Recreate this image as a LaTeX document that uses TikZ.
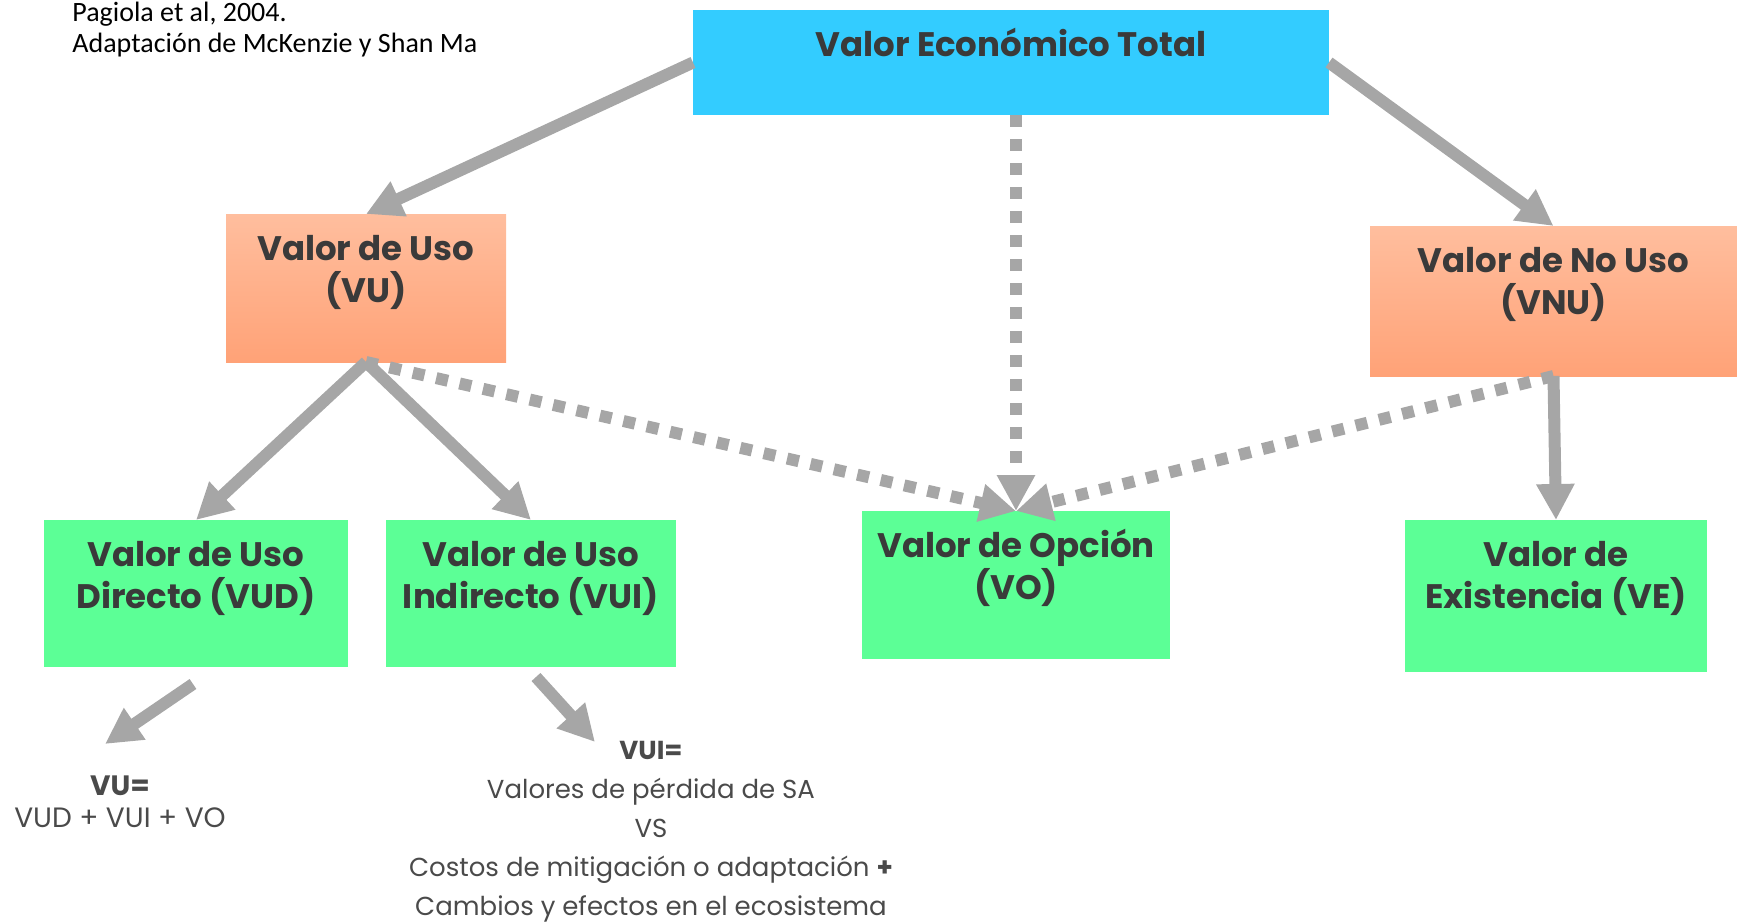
\documentclass[tikz,border=0pt]{standalone}
\usepackage{fontspec}
\setmainfont{Poppins}
\newfontfamily\notefont{Carlito}
\usepackage{xcolor}
\definecolor{cTotal}{HTML}{33CCFF}
\definecolor{cLeaf}{HTML}{5CFF96}
\definecolor{cUseTop}{HTML}{FFBE9E}
\definecolor{cUseBot}{HTML}{FFA277}
\definecolor{cArrow}{HTML}{A6A6A6}
\definecolor{cText}{HTML}{3A3A3A}
\definecolor{cFormula}{HTML}{4A4A4A}
\usepackage{tikz}
\usetikzlibrary{positioning,arrows.meta}
\tikzset{
  node-box/.style={inner sep=0pt,outer sep=0pt},
  node-total/.style={node-box,fill=cTotal},
  node-use/.style={node-box,top color=cUseTop,bottom color=cUseBot},
  node-leaf/.style={node-box,fill=cLeaf},
  node-label/.style={inner sep=0pt,align=center,text=cText,
    font=\fontsize{17}{21}\selectfont\bfseries},
  node-formula/.style={inner sep=0pt,align=center,text=cFormula},
  arrow/.style={-{Triangle[length=18pt,width=18pt]},line width=6pt,draw=cArrow},
  arrow-option/.style={arrow,dash pattern=on 6pt off 6pt},
}

\begin{document}
\begin{tikzpicture}[x=0.5pt,y=-0.5pt]
  \useasboundingbox (0,0) rectangle (1737,922);
  % cajas
  \node[node-total,minimum width=318pt,minimum height=52.5pt] (vet) at (1011,62.5) {};
  \node[node-use,minimum width=140pt,minimum height=74pt]     (vu)  at (366,288) {};
  \node[node-use,minimum width=183.5pt,minimum height=75pt]   (vnu) at (1553.5,301) {};
  \node[node-leaf,minimum width=152pt,minimum height=73.5pt]  (vud) at (196,593.5) {};
  \node[node-leaf,minimum width=145pt,minimum height=73.5pt]  (vui) at (531,593.5) {};
  \node[node-leaf,minimum width=154pt,minimum height=74pt]    (vo)  at (1016,585) {};
  \node[node-leaf,minimum width=151pt,minimum height=76pt]    (ve)  at (1556,596) {};
  % textos de las cajas (base = ultima linea)
  \node[node-label,below=23pt of vet.north,anchor=base] (vet-t) {Valor Económico Total};
  \node[node-label,below=44pt of vu.north,anchor=base]  (vu-t)  {Valor de Uso\\(VU)};
  \node[node-label,below=44pt of vnu.north,anchor=base] (vnu-t) {Valor de No Uso\\(VNU)};
  \node[node-label,below=44pt of vud.north,anchor=base] (vud-t) {Valor de Uso\\Directo (VUD)};
  \node[node-label,below=44pt of vui.north,anchor=base] (vui-t) {Valor de Uso\\Indirecto (VUI)};
  \node[node-label,below=44pt of vo.north,anchor=base]  (vo-t)  {Valor de Opción\\(VO)};
  \node[node-label,below=44pt of ve.north,anchor=base]  (ve-t)  {Valor de\\Existencia (VE)};
  % fuente
  \node[anchor=base west,inner sep=0pt,align=left,
    font=\notefont\fontsize{14}{15.5}\selectfont] (src) at (72,52)
    {Pagiola et al, 2004.\\Adaptación de McKenzie y Shan Ma};
  % fórmulas
  \node[node-formula,anchor=base,font=\fontsize{14}{16}\selectfont] (vu-f) at (120,827)
    {\textbf{VU=}\\VUD + VUI + VO};
  \node[node-formula,anchor=base,font=\fontsize{13}{19.5}\selectfont] (vui-f) at (651,915)
    {\textbf{VUI=}\\Valores de pérdida de SA\\VS\\Costos de mitigación o adaptación \textbf{+}\\Cambios y efectos en el ecosistema};
  \coordinate (vud-out) at (193,684);
  \coordinate (vu-in)   at (105,744);
  \coordinate (vui-out) at (536,677);
  \coordinate (vui-in)  at (595,742);
  % flechas
  \draw[arrow]        (vet.west)  -- (vu.north);
  \draw[arrow]        (vet.east)  -- (vnu.north);
  \draw[arrow-option] (vo.north |- vet.south) -- (vo.north);
  \draw[arrow]        (vu.south)  -- (vud.north);
  \draw[arrow]        (vu.south)  -- (vui.north);
  \draw[arrow-option] (vu.south)  -- (vo.north);
  \draw[arrow-option] (vnu.south) -- (vo.north);
  \draw[arrow]        (vnu.south) -- (ve.north);
  \draw[arrow]        (vud-out)   -- (vu-in);
  \draw[arrow]        (vui-out)   -- (vui-in);
\end{tikzpicture}
\end{document}
